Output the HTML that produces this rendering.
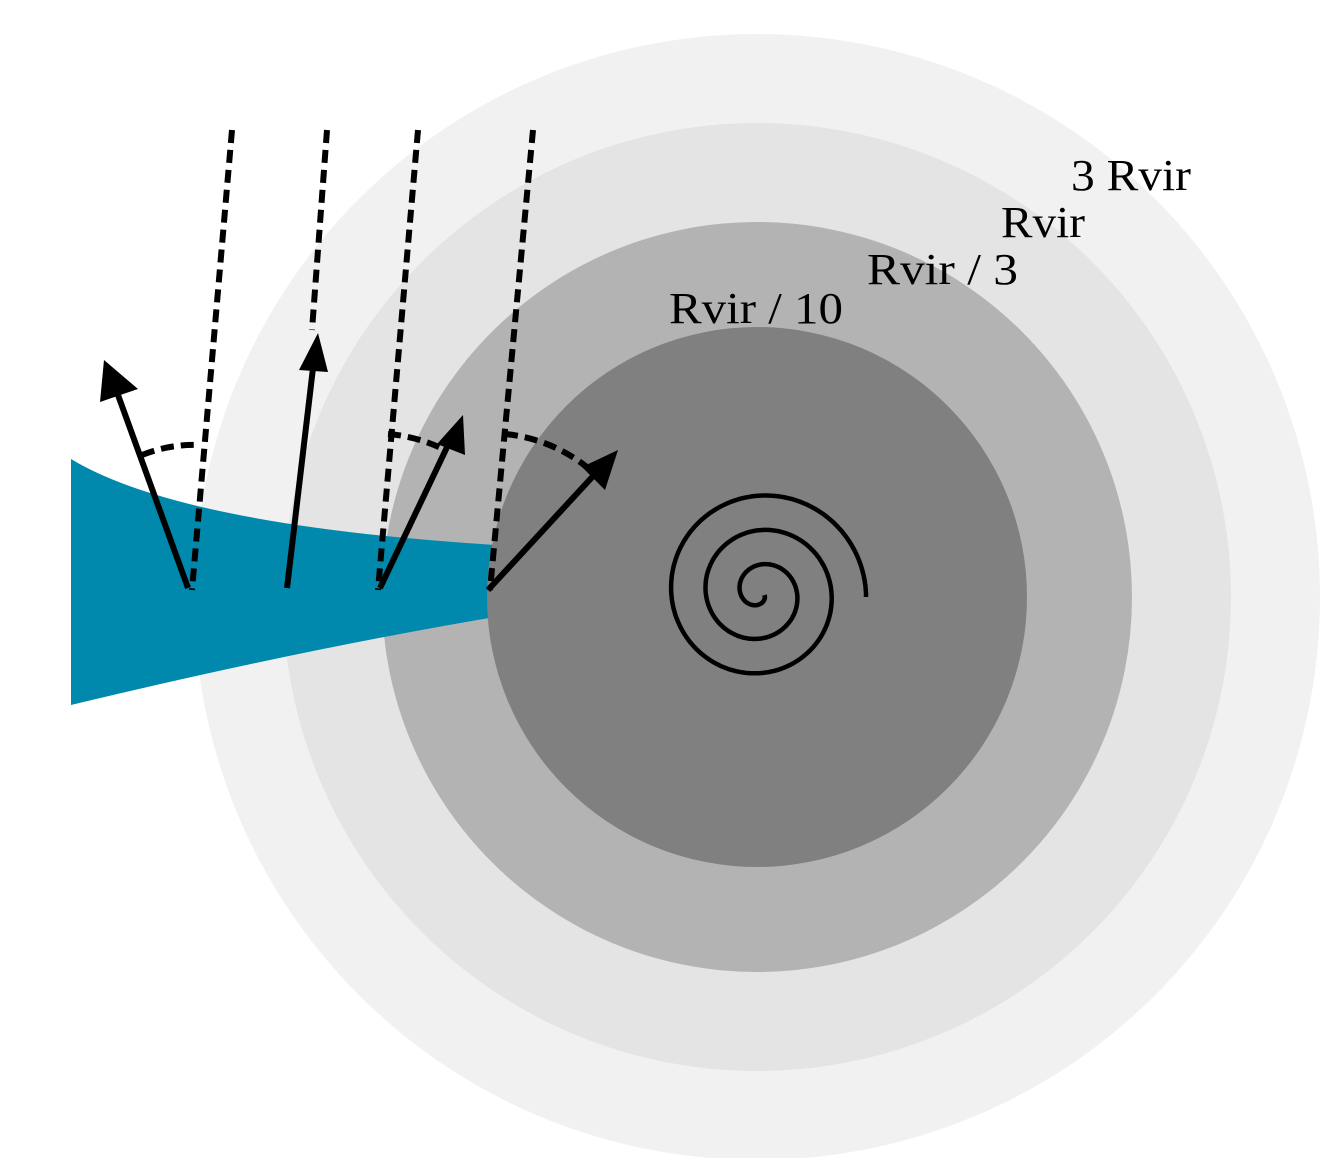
<!DOCTYPE html>
<html><head><meta charset="utf-8"><style>html,body{margin:0;padding:0;background:#fff}svg{display:block}</style></head>
<body>
<svg width="1320" height="1158" viewBox="0 0 1320 1158" xmlns="http://www.w3.org/2000/svg">
<circle cx="757" cy="597" r="563" fill="#f1f1f1"/>
<circle cx="757" cy="597" r="474" fill="#e4e4e4"/>
<circle cx="757" cy="597" r="375" fill="#b3b3b3"/>
<path d="M71,459 Q180,525 495,545 L495,617 Q300,650 71,705 Z" fill="#0089ac"/>
<circle cx="757" cy="597" r="270" fill="#808080"/>
<g stroke="#000" stroke-width="6" stroke-dasharray="13,7" fill="none">
<line x1="232" y1="130" x2="192" y2="590"/>
<line x1="327" y1="130" x2="312" y2="330"/>
<line x1="418" y1="130" x2="378" y2="590"/>
<line x1="533" y1="130" x2="490" y2="590"/>
<path d="M142,455 A140,140 0 0 1 200,445"/>
<path d="M388,434 A155,155 0 0 1 445,450"/>
<path d="M505,434 A155,155 0 0 1 588,468"/>
</g>
<g stroke="#000" stroke-width="6" fill="none">
<line x1="188" y1="588" x2="118" y2="395"/>
<line x1="287" y1="588" x2="313" y2="368"/>
<line x1="380" y1="588" x2="449" y2="443"/>
<line x1="488" y1="590" x2="595" y2="474"/>
</g>
<g fill="#000">
<polygon points="104,360 138,389 100,402"/>
<polygon points="318,333 328,372 299,370"/>
<polygon points="463,415 465,455 437,444"/>
<polygon points="618,450 605,490 582,467"/>
</g>
<path id="sp" d="" stroke="#000" stroke-width="4.5" fill="none"/>
<g font-family="'Liberation Serif', serif" font-size="44" fill="#000">
<text x="1071" y="190" textLength="120" lengthAdjust="spacingAndGlyphs">3 Rvir</text>
<text x="1001" y="237" textLength="84" lengthAdjust="spacingAndGlyphs">Rvir</text>
<text x="867" y="284" textLength="151" lengthAdjust="spacingAndGlyphs">Rvir / 3</text>
<text x="669" y="323" textLength="174" lengthAdjust="spacingAndGlyphs">Rvir / 10</text>
</g>
<script>
(function(){var cx=760,cy=593,r0=106,p=34.5,d='';var T=(r0-5)/p*2*Math.PI;for(var i=0;i<=800;i++){var phi=T*i/800;var r=r0-p*phi/(2*Math.PI);var x=cx+r*Math.cos(phi),y=cy-r*Math.sin(phi);d+=(i?'L':'M')+x.toFixed(1)+','+y.toFixed(1);}document.getElementById('sp').setAttribute('d','M866,597 '+d.replace(/^M/,'L'));})();
</script>
</svg>
</body></html>
